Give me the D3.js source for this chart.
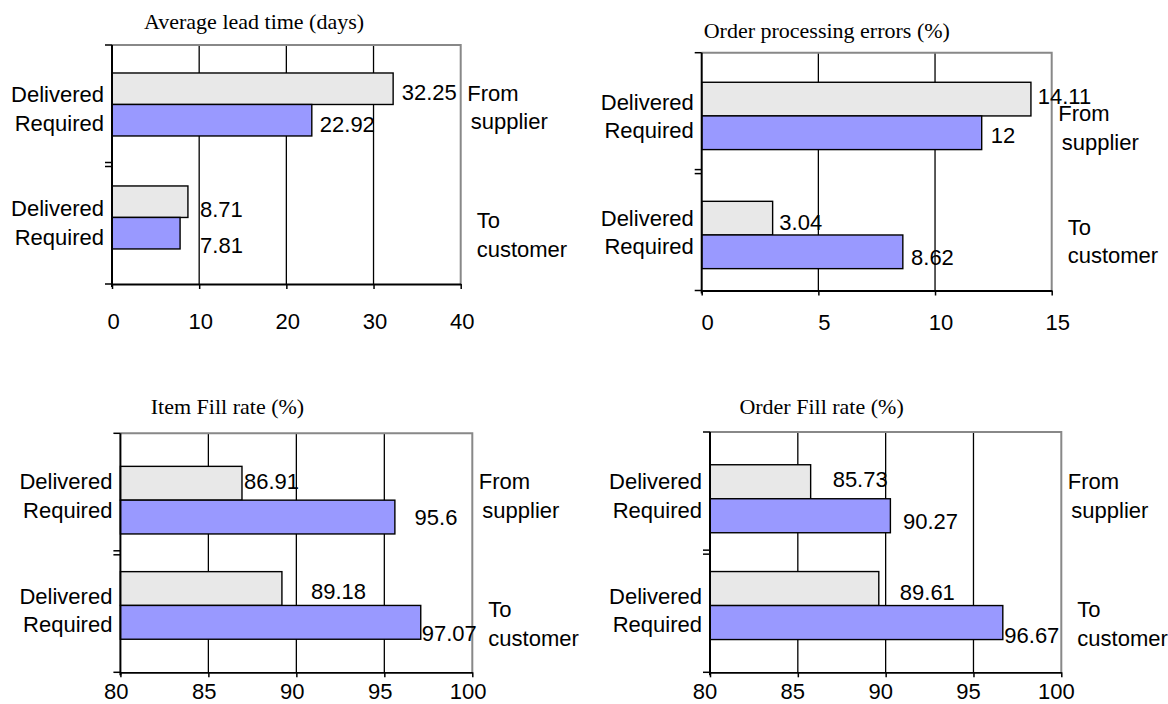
<!DOCTYPE html>
<html>
<head>
<meta charset="utf-8">
<script src="https://cdn.jsdelivr.net/npm/d3@7"></script>
<style>
  html, body { margin: 0; padding: 0; background: #fff; }
  svg { display: block; }
  .sans { font-family: "Liberation Sans", Arial, sans-serif; font-size: 22px; fill: #000; }
  .serif { font-family: "Liberation Serif", "Times New Roman", serif; font-size: 22px; fill: #000; }
</style>
</head>
<body>
<svg id="chart" width="1168" height="704"></svg>
<script>
// ---- data ----
const groups = ["From supplier", "To customer"];
const groupLines = [["From", "supplier"], ["To", "customer"]];
const series = ["Delivered", "Required"];

const leadTimeDelivered = [32.25, 8.71];
const leadTimeRequired = [22.92, 7.81];
const leadTimeTicks = [0, 10, 20, 30, 40];

const errorsDelivered = [14.11, 3.04];
const errorsRequired = [12, 8.62];
const errorsTicks = [0, 5, 10, 15];

const itemFillDelivered = [86.91, 89.18];
const itemFillRequired = [95.6, 97.07];
const itemFillTicks = [80, 85, 90, 95, 100];

const orderFillDelivered = [85.73, 89.61];
const orderFillRequired = [90.27, 96.67];
const orderFillTicks = [80, 85, 90, 95, 100];

const titles = ["Average lead time (days)", "Order processing errors (%)", "Item Fill rate (%)", "Order Fill rate (%)"];

// ---- layout of each panel ----
const layouts = [
  { box: { left: 112, right: 460.7, top: 45, bottom: 284 }, pi: 0.4425, po: 0.279, align: 0.444,
    titleX: 32, titleY: -24, tickDx: 1, tickDy: 37.7,
    valueOffsets: [[[8.6, 4], [8, 4]], [[12, 8], [20, 12]]],
    catDy: [4, 5], sideDy: [2.85, 17.5] },
  { box: { left: 701.7, right: 1051.7, top: 52.7, bottom: 290.5 }, pi: 0.4345, po: 0.216, align: 0.575,
    titleX: 2, titleY: -22, tickDx: 5.5, tickDy: 31.5,
    valueOffsets: [[[6.8, -3], [9, 3]], [[6.7, 4], [8.2, 5]]],
    catDy: [0.5, -2.8], sideDy: [12.2, 6.25] },
  { box: { left: 120.4, right: 472.3, top: 433.3, bottom: 672.3 }, pi: 0.358, po: 0.314, align: 0.5,
    titleX: 30.4, titleY: -27, tickDx: -4.6, tickDy: 19.5,
    valueOffsets: [[[2, -2], [19.7, 0]], [[29, 3], [1, 10.5]]],
    catDy: [-4.5, 4.8], sideDy: [-4.1, 18.25] },
  { box: { left: 710, right: 1061.3, top: 432, bottom: 672.3 }, pi: 0.3633, po: 0.3066, align: 0.5,
    titleX: 29.4, titleY: -25.7, tickDx: -5.5, tickDy: 19.5,
    valueOffsets: [[[22, -2], [12.6, 6]], [[21, 3.4], [1.5, 13]]],
    catDy: [-2.9, 4.7], sideDy: [-2.7, 18.15] }
];

const panels = [
  { title: titles[0], delivered: leadTimeDelivered, required: leadTimeRequired, ticks: leadTimeTicks },
  { title: titles[1], delivered: errorsDelivered, required: errorsRequired, ticks: errorsTicks },
  { title: titles[2], delivered: itemFillDelivered, required: itemFillRequired, ticks: itemFillTicks },
  { title: titles[3], delivered: orderFillDelivered, required: orderFillRequired, ticks: orderFillTicks }
];

const fills = { Delivered: "#e8e8e8", Required: "#9999ff" };
const lineGap = 28.7;

const svg = d3.select("#chart");

function drawPanel(panel, L) {
  const { left, right, top, bottom } = L.box;
  const g = svg.append("g");
  const ticks = panel.ticks;

  const x = d3.scaleLinear().domain([ticks[0], ticks[ticks.length - 1]]).range([left, right]);
  const y0 = d3.scaleBand().domain(groups).range([top, bottom])
    .paddingInner(L.pi).paddingOuter(L.po).align(L.align);
  const y1 = d3.scaleBand().domain(series).range([0, y0.bandwidth()]);

  // vertical gridlines
  g.append("g").selectAll("line").data(ticks.slice(1, -1)).join("line")
    .attr("x1", d => x(d)).attr("x2", d => x(d))
    .attr("y1", top).attr("y2", bottom)
    .attr("stroke", "#000").attr("stroke-width", 1.3);

  // plot-area frame: top and right edges
  g.append("path")
    .attr("d", `M${left},${top}H${right}V${bottom}`)
    .attr("fill", "none").attr("stroke", "#888").attr("stroke-width", 2);

  // bars
  const rows = groups.map((grp, i) => ({
    group: grp, i,
    items: [
      { s: "Delivered", v: panel.delivered[i], j: 0 },
      { s: "Required", v: panel.required[i], j: 1 }
    ]
  }));

  const rowG = g.append("g").selectAll("g").data(rows).join("g")
    .attr("transform", d => `translate(0,${y0(d.group)})`);

  rowG.selectAll("rect").data(d => d.items).join("rect")
    .attr("x", x(ticks[0]))
    .attr("y", d => y1(d.s))
    .attr("width", d => x(d.v) - x(ticks[0]))
    .attr("height", y1.bandwidth())
    .attr("fill", d => fills[d.s])
    .attr("stroke", "#000").attr("stroke-width", 1.4);

  // value labels
  rowG.each(function (row) {
    d3.select(this).selectAll("text.val").data(row.items).join("text")
      .attr("class", "sans val")
      .attr("x", d => x(d.v) + L.valueOffsets[row.i][d.j][0])
      .attr("y", d => y1(d.s) + y1.bandwidth() / 2 + L.valueOffsets[row.i][d.j][1])
      .attr("dy", "0.35em")
      .text(d => String(d.v));
  });

  // category (series) labels to the left of the axis
  rows.forEach(row => {
    const cy = y0(row.group) + y0.bandwidth() / 2 + L.catDy[row.i];
    series.forEach((s, j) => {
      g.append("text").attr("class", "sans")
        .attr("x", left - 8)
        .attr("y", cy + (j - 0.5) * lineGap)
        .attr("dy", "0.35em")
        .attr("text-anchor", "end")
        .text(s);
    });
  });

  // group labels to the right of the plot
  rows.forEach(row => {
    const cy = y0(row.group) + y0.bandwidth() / 2 + L.sideDy[row.i];
    groupLines[row.i].forEach((t, j) => {
      const dx = row.i === 0 ? (j === 0 ? 6.5 : 10) : 16;
      g.append("text").attr("class", "sans")
        .attr("x", right + dx)
        .attr("y", cy + (j - 0.5) * lineGap)
        .attr("dy", "0.35em")
        .text(t);
    });
  });

  // value axis along the bottom
  const xAxis = d3.axisBottom(x).tickValues(ticks).tickSize(5).tickSizeOuter(0).tickFormat(d3.format("d"));
  const ax = g.append("g").attr("transform", `translate(0,${bottom})`).call(xAxis);
  ax.select(".domain").attr("stroke", "#000").attr("stroke-width", 1.8);
  ax.selectAll(".tick line").attr("stroke", "#000").attr("stroke-width", 1.5);
  ax.selectAll(".tick text")
    .attr("class", "sans")
    .attr("y", L.tickDy).attr("dy", "0.35em").attr("dx", L.tickDx)
    .attr("fill", "#000");
  ax.attr("font-family", null).attr("font-size", null);

  // category axis on the left, with marks at the category boundaries
  g.append("line").attr("x1", left).attr("x2", left).attr("y1", top).attr("y2", bottom + 3)
    .attr("stroke", "#000").attr("stroke-width", 2);
  const mid = (top + bottom) / 2;
  const marks = [top, mid - 2, mid + 2, bottom];
  g.append("g").selectAll("line").data(marks).join("line")
    .attr("x1", left - 7).attr("x2", left)
    .attr("y1", d => d).attr("y2", d => d)
    .attr("stroke", "#000").attr("stroke-width", 1.5);

  // title
  g.append("text").attr("class", "serif")
    .attr("x", left + L.titleX)
    .attr("y", top + L.titleY)
    .attr("dy", "0.35em")
    .text(panel.title);
}

panels.forEach((p, i) => drawPanel(p, layouts[i]));
</script>
</body>
</html>
